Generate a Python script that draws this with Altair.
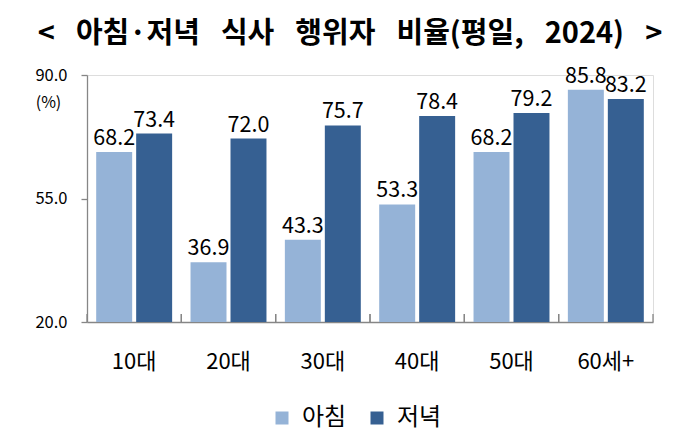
import altair as alt
import pandas as pd

categories = ["10대", "20대", "30대", "40대", "50대", "60세+"]
breakfast = [68.2, 36.9, 43.3, 53.3, 68.2, 85.8]
dinner = [73.4, 72.0, 75.7, 78.4, 79.2, 83.2]
series = ["아침", "저녁"]
y_ticks = [20.0, 55.0, 90.0]

rows = []
for c, b, d in zip(categories, breakfast, dinner):
    rows.append({"cat": c, "series": series[0], "value": b})
    rows.append({"cat": c, "series": series[1], "value": d})
df = pd.DataFrame(rows)
cat_df = pd.DataFrame({"cat": categories})

FONT = "Noto Sans CJK KR"
W, H = 566, 247
SP = "\u2002 "
title_text = f"<{SP}아침·저녁{SP}식사{SP}행위자{SP}비율(평일,{SP}2024){SP}>"

xscale = alt.Scale(domain=categories, paddingInner=0, paddingOuter=0)
yscale = alt.Scale(domain=[20, 90], nice=False, zero=False)
offscale = alt.Scale(domain=series, paddingInner=0.1, paddingOuter=0.23)
color = alt.Color(
    "series:N",
    scale=alt.Scale(domain=series, range=["#95B3D7", "#366092"]),
    legend=alt.Legend(
        title=None, orient="none", legendX=183, legendY=331, direction="horizontal",
        symbolType="square", symbolSize=169, symbolStrokeWidth=0,
        labelFont=FONT, labelFontSize=24, labelColor="#000000",
        columnPadding=18, labelOffset=8,
    ),
)

bars = alt.Chart(df).mark_bar(clip=True).encode(
    x=alt.X("cat:N", scale=xscale, sort=categories,
            axis=alt.Axis(title=None, labelFont=FONT, labelFontSize=22, labelColor="#000000",
                          labelPadding=29, ticks=False, domainColor="#868686", domainWidth=1.3,
                          labelAngle=0)),
    xOffset=alt.XOffset("series:N", scale=offscale, sort=series),
    y=alt.Y("value:Q", scale=yscale,
            axis=alt.Axis(title="(%)", titleAngle=0, titleX=-39, titleY=27,
                          titleBaseline="middle",
                          titleFont=FONT, titleFontSize=16, titleFontWeight="normal",
                          titleColor="#000000", titleAlign="center",
                          values=y_ticks, format=".1f", grid=False,
                          labelFont=FONT, labelFontSize=16.5, labelColor="#000000",
                          labelPadding=14, tickSize=6, tickColor="#868686",
                          domainColor="#868686", domainWidth=1.3, tickWidth=1.3)),
    y2=alt.Y2(datum=20),
    color=color,
)

labels = alt.Chart(df).mark_text(
    font=FONT, fontSize=21.5, color="#000000", baseline="bottom", dy=-2
).encode(
    x=alt.X("cat:N", scale=xscale, sort=categories),
    xOffset=alt.XOffset("series:N", scale=offscale, sort=series),
    y=alt.Y("value:Q", scale=yscale),
    text=alt.Text("value:Q", format=".1f"),
)

ticks_start = alt.Chart(cat_df).mark_rule(color="#868686", strokeWidth=1.3).encode(
    x=alt.X("cat:N", scale=xscale, sort=categories, bandPosition=0),
    y=alt.value(H - 8), y2=alt.value(H),
)
ticks_end = alt.Chart(cat_df).mark_rule(color="#868686", strokeWidth=1.3).encode(
    x=alt.X("cat:N", scale=xscale, sort=categories, bandPosition=1),
    y=alt.value(H - 8), y2=alt.value(H),
)

chart = alt.layer(bars, labels, ticks_start, ticks_end).properties(
    width=W, height=H,
    title=alt.Title(title_text, font=FONT, fontSize=29,
                    fontWeight="bold", color="#000000", anchor="middle", dx=-20, offset=17),
    autosize=alt.AutoSizeParams(type="none"),
    padding={"left": 79, "top": 67, "right": 39, "bottom": 115},
).configure_view(stroke=None).configure(background="#ffffff")

chart.save("out.html", embed_options={"renderer": "svg", "actions": False})
